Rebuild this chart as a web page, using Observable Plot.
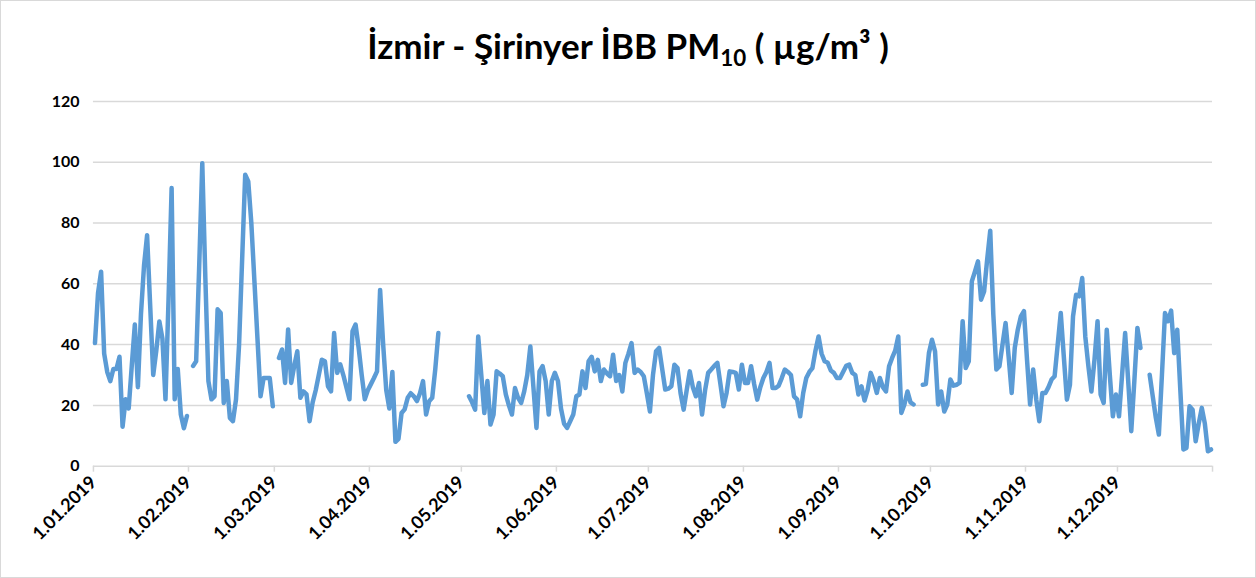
<!DOCTYPE html>
<html>
<head>
<meta charset="utf-8">
<script src="https://cdn.jsdelivr.net/npm/d3@7"></script>
<script src="https://cdn.jsdelivr.net/npm/@observablehq/plot@0.6"></script>
<style>
  html, body { margin: 0; padding: 0; background: #fff; }
  #chart { position: relative; width: 1256px; height: 578px; box-sizing: border-box; border: 1px solid #d9d9d9; overflow: hidden; }
  #title { position: absolute; left: 0; right: 0; top: 22px; text-align: center; font-family: Lato, "Open Sans", sans-serif; font-weight: bold; font-size: 35px; color: #000; line-height: 44px; }
  #title sub { font-size: 0.64em; vertical-align: -0.32em; line-height: 0; }
  #plot { position: absolute; left: -1px; top: 79px; }
</style>
</head>
<body>
<div id="chart">
  <div id="title">İzmir - Şirinyer İBB PM<sub>10</sub> ( µg/m³ )</div>
  <div id="plot"></div>
</div>
<script>
// Daily PM10 values (µg/m³), 2019; null = no measurement
const jan = [40.5, 57, 64, 37, 31, 28, 32, 32, 36, 13, 22, 19, 33, 46.6, 26, 50, 66, 76, 53, 30, 38, 47.6, 42, 22, 55, 91.5, 22, 32, 17, 12.5, 16.5];
const feb = [null, 33, 34.5, 66, 99.7, 62, 28, 22, 23, 51.6, 50.4, 20.8, 28, 15.9, 14.8, 22, 40, 68, 95.9, 93.7, 80, 61, 42, 23, 29, 29, 29, 19.7];
const mar = [null, 35.6, 38.4, 27.4, 45, 27.4, 33, 37.8, 22.5, 24.6, 23.6, 14.8, 21, 25, 30, 35, 34.5, 26.3, 24.6, 43.8, 30.7, 33.5, 30, 26, 22, 44.4, 46.6, 39, 30, 22, 25];
const apr = [27, 29, 31.2, 58, 40, 25, 19, 31, 8, 9, 17.5, 18.7, 22.5, 24, 23, 21.4, 24, 28, 17, 21.4, 22.5, 32, 43.8, null, null, null, null, null, null, null];
const may = [null, null, 23, 21, 18.6, 42.7, 30, 17.5, 28, 13.7, 17, 31.2, 30.5, 29.6, 23.6, 20, 17, 25.7, 22.5, 20.8, 24.6, 30, 39.4, 26, 12.6, 31.2, 32.9, 28, 17, 28, 30.7];
const jun = [28, 19, 14, 12.6, 14.8, 17, 23, 23.6, 31.2, 25.7, 34.5, 36, 31.2, 35, 28, 31.8, 30.5, 29.6, 36.7, 28, 30, 24.6, 34, 37, 40.5, 30.7, 31.8, 31, 29.6, 24];
const jul = [18, 30, 37.8, 38.9, 32, 25.2, 25.5, 26.3, 33.4, 32.3, 24, 18.6, 25, 31.2, 26, 23, 27.4, 17, 25, 30.7, 31.8, 33, 34, 27, 19.7, 24.1, 31.2, 31, 30.7, 25.2, 33.4];
const aug = [27.4, 27.4, 32.9, 27, 21.9, 26, 29, 31, 34, 25.7, 25.7, 26.5, 29, 31.8, 31, 30, 23, 22, 16.4, 24.1, 29, 31, 32.3, 38, 42.7, 37, 34.5, 34, 31.5, 30.7, 29];
const sep = [29, 31, 33, 33.4, 30.7, 30, 23.6, 26.3, 21.6, 25, 30.7, 28, 24.1, 29, 26, 24.6, 32.9, 35.6, 38, 42.7, 17.5, 20.3, 24.6, 21, 20.3, null, null, 26.8, 27, 37.2];
const oct = [41.6, 37.8, 20.3, 24.6, 18, 20.3, 28.5, 26.5, 26.8, 27.4, 47.7, 32.3, 34.5, 60.8, 64, 67.4, 54.8, 57.5, 68, 77.5, 50, 31.8, 32.9, 40, 47.1, 36, 24.1, 38.9, 45, 49.3, 51];
const nov = [35, 20.3, 31.8, 22, 14.8, 24.1, 24.1, 26, 28.5, 29.6, 40, 50.4, 36, 21.9, 26.8, 49.3, 56.4, 55.9, 61.9, 42.7, 33, 24.6, 35, 47.7, 23.6, 20.8, 44.9, 30, 16.4, 23.6];
const dec = [16.4, 30, 43.8, 28, 11.5, 28, 45.5, 38.9, null, null, 30.1, 23, 16, 10.4, 30, 50.4, 47.7, 51.2, 37.2, 44.9, 25, 5.5, 6, 19.7, 18.6, 8.2, 14, 19.2, 14, 4.9, 5.5];

const yTicks = [0, 20, 40, 60, 80, 100, 120];
const year = 2019;

const values = [].concat(jan, feb, mar, apr, may, jun, jul, aug, sep, oct, nov, dec);
const start = Date.UTC(year, 0, 1);
const end = Date.UTC(year + 1, 0, 1);
// each daily category is centred within its day slot
const data = values.map((v, i) => ({date: new Date(start + (i + 0.5) * 864e5), value: v}));

const monthStarts = d3.utcMonth.range(new Date(start), new Date(end));
const tickMarks = monthStarts.concat([new Date(end)]);
const fmt = d => `${d.getUTCDate()}.${String(d.getUTCMonth() + 1).padStart(2, "0")}.${d.getUTCFullYear()}`;

const chart = Plot.plot({
  width: 1256,
  height: 498,
  marginLeft: 93,
  marginRight: 43,
  marginTop: 21,
  marginBottom: 112,
  style: {fontFamily: "Lato, 'Open Sans', sans-serif", background: "transparent", color: "#000"},
  x: {type: "utc", domain: [new Date(start), new Date(end)], label: null},
  y: {domain: [0, 120], label: null},
  marks: [
    Plot.gridY(yTicks, {stroke: "#d9d9d9", strokeOpacity: 1, strokeWidth: 1.5}),
    Plot.axisY(yTicks, {tickSize: 0, tickPadding: 14, fontSize: 16, fontWeight: "bold", label: null}),
    Plot.axisX(tickMarks, {tickSize: 6, stroke: "#d9d9d9", strokeWidth: 1.5, tickFormat: () => "", label: null}),
    Plot.axisX(monthStarts, {tickSize: 0, tickPadding: 13, tickRotate: -45, tickFormat: fmt, fontSize: 18, fontWeight: "bold", label: null}),
    Plot.line(data, {x: "date", y: "value", stroke: "#5b9bd5", strokeWidth: 4.5, strokeLinejoin: "round", strokeLinecap: "round"})
  ]
});
document.getElementById("plot").appendChild(chart);
</script>
</body>
</html>
